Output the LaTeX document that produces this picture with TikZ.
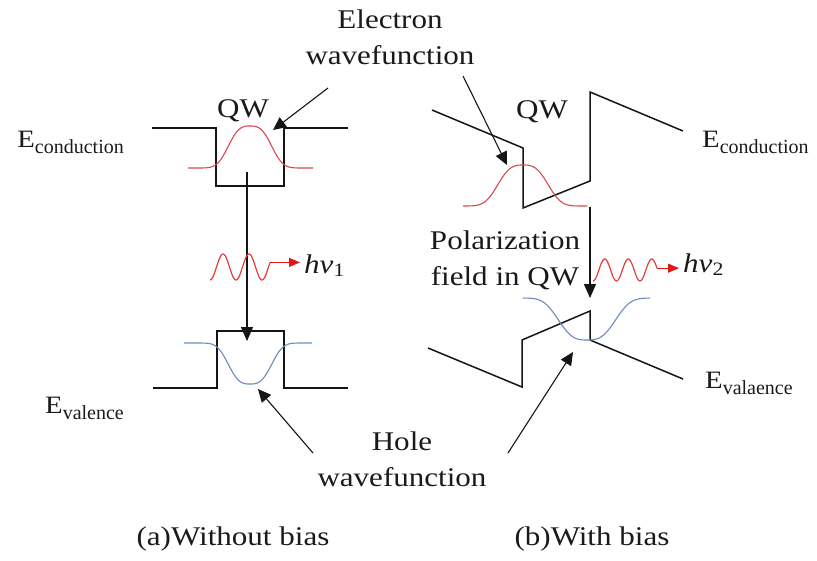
\documentclass[tikz,border=0pt]{standalone}
\usepackage{fontspec}
\setmainfont[FakeStretch=1.15]{Liberation Serif}
\newfontfamily\subserif{Liberation Serif}
\usetikzlibrary{arrows.meta, calc}
\definecolor{bandLine}{HTML}{151515}
\definecolor{elecWave}{HTML}{D9474F}
\definecolor{holeWave}{HTML}{6A8CBF}
\definecolor{photonRed}{HTML}{E01818}
\definecolor{labelColor}{HTML}{1A1A1A}

\newcommand{\bandE}[1]{E\raisebox{-6pt}{\subserif\fontsize{20}{20}\selectfont #1}}

\begin{document}
\begin{tikzpicture}[
    x=1pt, y=-1pt,
    bandline/.style={line width=1.5pt, bandLine, line join=miter},
    elecwave/.style={elecWave, line width=1.1pt},
    holewave/.style={holeWave, line width=1.1pt},
    photonwave/.style={photonRed!85!white, line width=1.2pt},
    photonarrow/.style={
        -{Triangle[length=11pt,width=9pt]},
        photonRed, line width=1.2pt, shorten >=4pt
    },
    transarrow/.style={
        -{Triangle[length=14pt,width=12pt]},
        bandLine, line width=1.3pt
    },
    pointer/.style={
        -{Triangle[length=13pt,width=12pt]},
        bandLine, line width=1.1pt
    },
    lbl/.style={font=\fontsize{27}{36}\selectfont, align=center,
        inner sep=0pt, text=labelColor},
    bandlbl/.style={font=\fontsize{25}{25}\selectfont, inner sep=0pt,
        text=labelColor},
]
\useasboundingbox (0,0) rectangle (817,560);

% ============================================================
%  (a) WITHOUT BIAS
% ============================================================
\draw[bandline] (152,128) -- (216,128) -- (216,186) -- (284,186)
    -- (284,128) -- (348,128);
\draw[bandline] (153,388) -- (217,388) -- (217,331) -- (284,331)
    -- (284,388) -- (348,388);

\draw[elecwave] plot[domain=-62:63, samples=70, smooth]
    ({250+\x}, {168-42*exp(-(abs(\x)/25)^3)});
\draw[holewave] plot[domain=-66:62, samples=70, smooth]
    ({250+\x}, {343+41*exp(-(abs(\x)/25)^3)});

\node[bandlbl, anchor=base east] (ecA) at (124,147) {\bandE{conduction}};
\node[bandlbl, anchor=base west] (evA) at (45,413) {\bandE{valence}};
\node[lbl, anchor=base] (qwA) at (243,117) {QW};

\coordinate (cA) at (247,172);
\coordinate (vA) at (247,341);
\draw[transarrow] (cA) -- (vA);

% photon
\draw[photonwave] plot[domain=0:60, samples=80, smooth]
    ({210+\x}, {267+13*cos(13.846*\x)});
\coordinate (phA) at ({210+60}, {267+13*cos(13.846*60)});
\node[lbl, anchor=base west] (hvA) at (304,273) {\textit{hν}\textsubscript{1}};
\draw[photonarrow] (phA) -- (phA -| hvA.west);

% ============================================================
%  (b) WITH BIAS
% ============================================================
\draw[bandline] (432,110) -- (523,148) -- (523,208) -- (590,181)
    -- (590,92) -- (683,131);
\draw[bandline] (428,348) -- (522,387) -- (522,340) -- (590,311)
    -- (590,340) -- (683,379);

\draw[elecwave] plot[domain=-60:64, samples=70, smooth]
    ({523+\x}, {206-41*exp(-(abs(\x)/29)^3)});
\draw[holewave] plot[domain=-64:63, samples=70, smooth]
    ({587+\x}, {298+42*exp(-(abs(\x)/33)^3)});

\node[lbl, anchor=base] (qwB) at (542,118) {QW};
\node[bandlbl, anchor=base west] (ecB) at (702,147) {\bandE{conduction}};
\node[bandlbl, anchor=base west] (evB) at (705,388) {\bandE{valaence}};

\coordinate (cB) at (590,207);
\coordinate (vB) at (590,298);
\draw[transarrow] (cB) -- (vB);

\node[lbl, anchor=base] (polar) at (505,285) {Polarization\\field in QW};

% photon
\draw[photonwave] plot[domain=0:64, samples=80, smooth]
    ({593+\x}, {270+11*cos(15.319*\x)});
\coordinate (phB) at ({593+64}, {270+11*cos(15.319*64)});
\node[lbl, anchor=base west] (hvB) at (683,272) {\textit{hν}\textsubscript{2}};
\draw[photonarrow] (phB) -- (phB -| hvB.west);

% ============================================================
%  WAVEFUNCTION LABELS
% ============================================================
\node[lbl, anchor=base] (elec) at (390,64) {Electron\\wavefunction};
\coordinate (eA) at (328,88);
\coordinate (eAtip) at (273,130);
\coordinate (eB) at (463,76);
\coordinate (eBtip) at (507,165);
\draw[pointer] (eA) -- (eAtip);
\draw[pointer] (eB) -- (eBtip);

\node[lbl, anchor=base] (hole) at (402,486) {Hole\\wavefunction};
\coordinate (hA) at (313,453);
\coordinate (hAtip) at (258,389);
\coordinate (hB) at (508,453);
\coordinate (hBtip) at (573,352);
\draw[pointer] (hA) -- (hAtip);
\draw[pointer] (hB) -- (hBtip);

% captions
\node[lbl, anchor=base] (capA) at (233,545) {(a)Without bias};
\node[lbl, anchor=base] (capB) at (592,545) {(b)With bias};

\end{tikzpicture}
\end{document}
